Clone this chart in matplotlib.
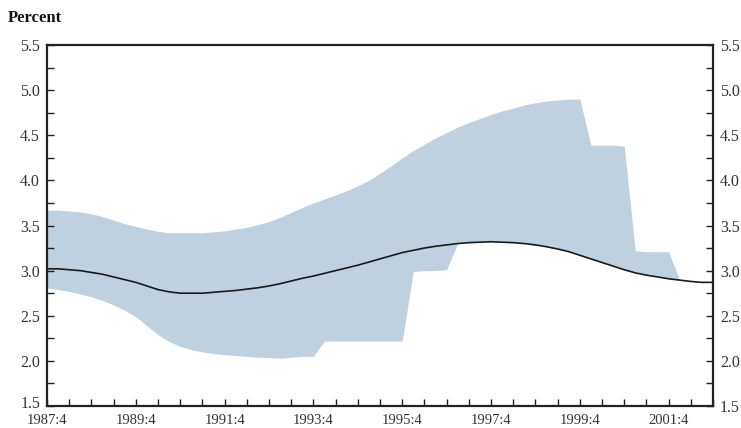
import matplotlib.pyplot as plt
import matplotlib.transforms as mtransforms
import numpy as np

# quarters from 1987:4 (index 0) to 2002:4 (index 60)
quarters = np.arange(61)

center = [3.02, 3.02, 3.01, 3.00, 2.98, 2.96, 2.93, 2.90, 2.87, 2.83,
          2.79, 2.765, 2.75, 2.75, 2.75, 2.76, 2.77, 2.78, 2.795, 2.81,
          2.83, 2.855, 2.885, 2.915, 2.94, 2.97, 3.00, 3.03, 3.06, 3.095,
          3.13, 3.165, 3.20, 3.225, 3.25, 3.27, 3.285, 3.30, 3.31, 3.315,
          3.32, 3.315, 3.31, 3.30, 3.285, 3.265, 3.24, 3.21, 3.17, 3.13,
          3.09, 3.05, 3.01, 2.975, 2.95, 2.93, 2.91, 2.895, 2.88, 2.87,
          2.87]

upper = [3.67, 3.67, 3.66, 3.65, 3.63, 3.60, 3.56, 3.52, 3.49, 3.46,
         3.435, 3.42, 3.42, 3.42, 3.42, 3.43, 3.44, 3.46, 3.48, 3.51,
         3.545, 3.59, 3.645, 3.70, 3.75, 3.795, 3.84, 3.885, 3.94, 4.00,
         4.08, 4.16, 4.25, 4.33, 4.40, 4.47, 4.53, 4.59, 4.64, 4.685,
         4.73, 4.77, 4.80, 4.835, 4.86, 4.88, 4.89, 4.90, 4.90, 4.39,
         4.39, 4.39, 4.38, 3.22, 3.21, 3.21, 3.21, 2.895, 2.88, 2.87,
         2.87]

lower = [2.81, 2.79, 2.77, 2.74, 2.71, 2.67, 2.62, 2.56, 2.49, 2.39,
         2.29, 2.215, 2.16, 2.125, 2.10, 2.08, 2.07, 2.06, 2.05, 2.04,
         2.035, 2.03, 2.04, 2.05, 2.05, 2.22, 2.22, 2.22, 2.22, 2.22,
         2.22, 2.22, 2.22, 2.99, 3.00, 3.00, 3.01, 3.30, 3.31, 3.315,
         3.32, 3.315, 3.31, 3.30, 3.285, 3.265, 3.24, 3.21, 3.17, 3.13,
         3.09, 3.05, 3.01, 2.975, 2.95, 2.93, 2.91, 2.895, 2.88, 2.87,
         2.87]

xlabels = ['1987:4', '1989:4', '1991:4', '1993:4', '1995:4', '1997:4', '1999:4', '2001:4']

plt.rcParams['font.family'] = ['Liberation Serif', 'DejaVu Serif']

fig = plt.figure(figsize=(7.41, 4.28), dpi=100)
ax = fig.add_axes([47 / 741, 1 - 406 / 428, 666 / 741, 361 / 428])

ax.fill_between(quarters, lower, upper, color='#bfd1df', linewidth=0)
ax.plot(quarters, center, color='#1a1a1a', linewidth=1.2)

ax.set_xlim(0, 60)
ax.set_ylim(1.5, 5.5)

ax.set_xticks(np.arange(0, 61, 2))
ax.set_xticklabels([xlabels[i // 8] if i % 8 == 0 else '' for i in range(0, 61, 2)])
ax.set_yticks(np.arange(1.5, 5.51, 0.5))
ax.set_yticks(np.arange(1.75, 5.5, 0.5), minor=True)
ax.set_yticklabels([f'{v:.1f}' for v in np.arange(1.5, 5.51, 0.5)])

ax.tick_params(axis='x', direction='in', length=5, width=1, colors='#222222',
               labelsize=10.5, pad=5.5, top=False)
ax.tick_params(axis='y', which='both', direction='in', length=5, width=1,
               colors='#222222', labelsize=11.5, left=True, right=True,
               labelleft=True, labelright=True, pad=5)
for lab in ax.get_xticklabels() + ax.get_yticklabels():
    lab.set_color('#333333')

# nudge the bottom-left "1.5" up a little so it clears "1987:4"
first = ax.yaxis.get_major_ticks()[0].label1
first.set_transform(first.get_transform() +
                    mtransforms.ScaledTranslation(0, 4 / 100, fig.dpi_scale_trans))

for side in ['left', 'right', 'bottom', 'top']:
    ax.spines[side].set_linewidth(1.6)
    ax.spines[side].set_color('#222222')

fig.text(8 / 741, 1 - 18 / 428, 'Percent', fontsize=12, fontweight='bold',
         ha='left', va='center', color='#111111')

plt.savefig('out.png', dpi=100)
